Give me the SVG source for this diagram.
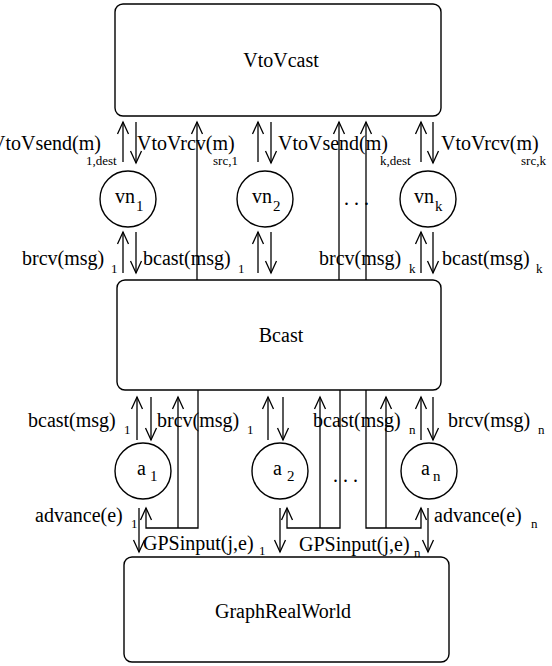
<svg xmlns="http://www.w3.org/2000/svg" width="552" height="666" viewBox="0 0 552 666">
<defs>
<marker id="ah" markerUnits="userSpaceOnUse" markerWidth="16" markerHeight="16" viewBox="-14 -8 16 16" refX="0" refY="0" orient="auto" overflow="visible">
<path d="M-12,-5.5 L0,0 L-12,5.5" fill="none" stroke="#000" stroke-width="1.3"/>
</marker>
<style>
.box{fill:#fff;stroke:#000;stroke-width:1.4}
.ln{fill:none;stroke:#000;stroke-width:1.3}
.ar{marker-end:url(#ah)}
text{font-family:"Liberation Serif","DejaVu Serif",serif;font-size:20px;fill:#000}
.sub{font-size:13px}
.nsub{font-size:15px}
.c{text-anchor:middle}
</style>
</defs>
<rect width="552" height="666" fill="#fff"/>

<g id="vtovcast">
<rect class="box" x="115" y="4" width="326" height="112" rx="8"/>
<text class="c" x="281" y="67">VtoVcast</text>
</g>
<g id="bcast">
<rect class="box" x="117" y="280" width="324" height="110" rx="8"/>
<text class="c" x="281" y="342">Bcast</text>
</g>
<g id="graphrealworld">
<rect class="box" x="124" y="557" width="325" height="105" rx="8"/>
<text class="c" x="283" y="618">GraphRealWorld</text>
</g>

<g id="vn1">
<circle class="box" cx="128" cy="199" r="28"/>
<text x="115" y="203">vn</text><text class="nsub" x="136" y="211">1</text>
</g>
<g id="vn2">
<circle class="box" cx="265" cy="199" r="28"/>
<text x="252" y="203">vn</text><text class="nsub" x="273" y="211">2</text>
</g>
<g id="vnk">
<circle class="box" cx="428" cy="199" r="28"/>
<text x="414" y="203">vn</text><text class="nsub" x="435" y="211">k</text>
</g>
<g id="a1">
<circle class="box" cx="143" cy="471" r="28"/>
<text x="137" y="475">a</text><text class="nsub" x="150" y="481">1</text>
</g>
<g id="a2">
<circle class="box" cx="280" cy="471" r="28"/>
<text x="273" y="475">a</text><text class="nsub" x="287" y="481">2</text>
</g>
<g id="an">
<circle class="box" cx="429" cy="471" r="28"/>
<text x="421" y="475">a</text><text class="nsub" x="433" y="481">n</text>
</g>

<g id="connectors">
<path class="ln ar" d="M123,162V122"/><path class="ln ar" d="M136,122V163"/>
<path class="ln ar" d="M258,162V122"/><path class="ln ar" d="M271,122V163"/>
<path class="ln ar" d="M421,162V122"/><path class="ln ar" d="M433,122V163"/>
<path class="ln ar" d="M123,273V232"/><path class="ln ar" d="M136,232V273"/>
<path class="ln ar" d="M258,273V232"/><path class="ln ar" d="M271,232V273"/>
<path class="ln ar" d="M421,273V232"/><path class="ln ar" d="M433,232V273"/>
<path class="ln ar" d="M197,280V122"/>
<path class="ln ar" d="M339,280V122"/>
<path class="ln ar" d="M366,280V122"/>
<path class="ln ar" d="M137,440V397"/><path class="ln ar" d="M151,397V440"/>
<path class="ln ar" d="M268,440V397"/><path class="ln ar" d="M283,397V440"/>
<path class="ln ar" d="M421,440V397"/><path class="ln ar" d="M433,397V440"/>
<path class="ln ar" d="M198,390V528H146V508"/>
<path class="ln ar" d="M178,528V397"/>
<path class="ln ar" d="M340,390V528H287V508"/>
<path class="ln ar" d="M320,528V397"/>
<path class="ln ar" d="M366,390V528H421V508"/>
<path class="ln ar" d="M386,528V397"/>
<path class="ln ar" d="M139,508V552"/>
<path class="ln ar" d="M280,508V552"/>
<path class="ln ar" d="M428,508V552"/>

<g id="labels">
<text x="101" y="150" text-anchor="end">VtoVsend(m)</text><text class="sub" x="86" y="165">1,dest</text>
<text x="137" y="150">VtoVrcv(m)</text><text class="sub" x="213" y="165">src,1</text>
<text x="278" y="150">VtoVsend(m)</text><text class="sub" x="380" y="165">k,dest</text>
<text x="441" y="150">VtoVrcv(m)</text><text class="sub" x="521" y="165">src,k</text>

<text x="22" y="265">brcv(msg)</text><text class="sub" x="111" y="273">1</text>
<text x="143" y="265">bcast(msg)</text><text class="sub" x="238" y="273">1</text>
<text x="319" y="265">brcv(msg)</text><text class="sub" x="409" y="273">k</text>
<text x="442" y="265">bcast(msg)</text><text class="sub" x="536" y="273">k</text>

<text x="28" y="427">bcast(msg)</text><text class="sub" x="124" y="434">1</text>
<text x="157" y="427">brcv(msg)</text><text class="sub" x="247" y="434">1</text>
<text x="313" y="427">bcast(msg)</text><text class="sub" x="409" y="434">n</text>
<text x="448" y="427">brcv(msg)</text><text class="sub" x="538" y="434">n</text>

<text x="35" y="522">advance(e)</text><text class="sub" x="131" y="528">1</text>
<text x="143" y="550">GPSinput(j,e)</text><text class="sub" x="259" y="555">1</text>
<text x="299" y="551">GPSinput(j,e)</text><text class="sub" x="414" y="557">n</text>
<text x="434" y="522">advance(e)</text><text class="sub" x="531" y="528">n</text>

<text x="344" y="205">. . .</text>
<text x="333" y="482">. . .</text>
</g>
</g>
</svg>
